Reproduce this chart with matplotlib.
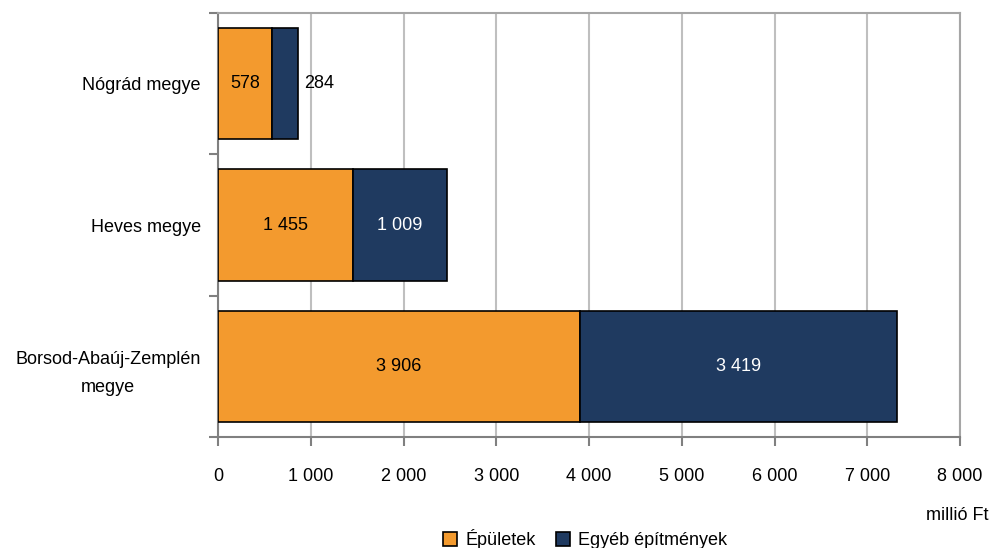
import matplotlib.pyplot as plt
import numpy as np

plt.rcParams['font.family'] = ['Liberation Sans', 'DejaVu Sans']

# Adatok
megyek = ['Borsod-Abaúj-Zemplén\nmegye', 'Heves megye', 'Nógrád megye']
epuletek = [3906, 1455, 578]
egyeb = [3419, 1009, 284]
sorozatok = ['Épületek', 'Egyéb építmények']
x_ticks = [0, 1000, 2000, 3000, 4000, 5000, 6000, 7000, 8000]

orange = '#F39A2E'
navy = '#1F3A60'
grey = '#BFBFBF'
fs = 13


def fmt(v):
    return f'{v:,}'.replace(',', ' ')


fig = plt.figure(figsize=(9.91, 5.48), dpi=100)
ax = fig.add_axes([218 / 991, 1 - 437 / 548, 742 / 991, 424 / 548])

y = np.arange(len(megyek))
h = 0.79
b1 = ax.barh(y, epuletek, height=h, color=orange, edgecolor='black', linewidth=1.2,
             label=sorozatok[0], zorder=3)
b2 = ax.barh(y, egyeb, left=epuletek, height=h, color=navy, edgecolor='black', linewidth=1.2,
             label=sorozatok[1], zorder=3)

for i in range(len(megyek)):
    ax.text(epuletek[i] / 2, y[i], fmt(epuletek[i]), ha='center', va='center',
            fontsize=fs, color='black', zorder=4)
    tot = epuletek[i] + egyeb[i]
    if egyeb[i] < 500:
        ax.text(tot + 70, y[i], fmt(egyeb[i]), ha='left', va='center',
                fontsize=fs, color='black', zorder=4)
    else:
        ax.text(epuletek[i] + egyeb[i] / 2, y[i], fmt(egyeb[i]), ha='center', va='center',
                fontsize=fs, color='white', zorder=4)

ax.set_xlim(0, 8000)
ax.set_ylim(-0.5, 2.5)
ax.set_xticks(x_ticks)
ax.set_xticklabels([fmt(v) for v in x_ticks], fontsize=fs)
ax.xaxis.grid(True, color=grey, linewidth=1.5, zorder=0)

ax.set_yticks(y)
ax.set_yticklabels(megyek, fontsize=fs, linespacing=1.8, multialignment='center')
ax.tick_params(axis='y', length=0, pad=12.5)
ax.set_yticks([-0.5, 0.5, 1.5, 2.5], minor=True)
ax.tick_params(axis='y', which='minor', length=6.5, color='#808080', width=1.5)
ax.tick_params(axis='x', length=6.5, color='#808080', width=1.5, pad=16)

for s in ax.spines.values():
    s.set_color('#A6A6A6')
    s.set_linewidth(1.5)
ax.spines['left'].set_color('#808080')
ax.spines['bottom'].set_color('#808080')

fig.text(989 / 991, 1 - 516 / 548, 'millió Ft', ha='right', va='center', fontsize=fs)

fig.legend(handles=[b1, b2], loc='center', bbox_to_anchor=(585 / 991, 1 - 539 / 548),
           ncol=2, frameon=False, fontsize=fs, handlelength=0.8, handleheight=0.8,
           handletextpad=0.45, columnspacing=1.1, borderpad=0)

fig.savefig('out.png', dpi=100)
